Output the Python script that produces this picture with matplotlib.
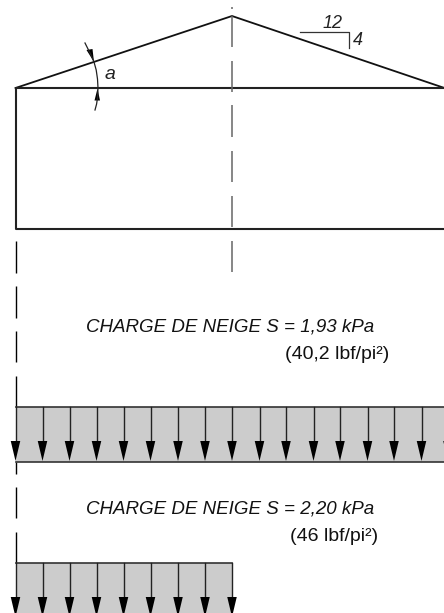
import matplotlib
matplotlib.use('Agg')
import matplotlib.pyplot as plt
from matplotlib.patches import Rectangle

# everything in pixels
roof_x = [15.5, 232, 444.5]
roof_y = [88, 16, 88]
wall_left = 15.5
wall_right = 446
wall_top = 88
wall_bottom = 229

center_x = 232
center_dashes = [(7, 8.5), (16, 47), (61, 92), (105, 137), (151, 182), (196, 227), (241, 272)]
left_dashes = [(241, 273), (286, 318), (331, 362), (376, 407), (462, 474), (487, 518), (532, 563)]

band1 = (407, 462)
band1_arrows = [15.5, 42.5, 69.5, 96.5, 123.5, 150.5, 178, 205, 232, 259.5, 286, 313.5, 340, 367.5, 394, 421.5, 448]
band2 = (563, 618)
band2_arrows = [15.5, 42.5, 69.5, 96.5, 123.5, 150.5, 178, 205, 232]
band2_right = 232

arc_x = [85, 88, 91, 94, 96.2, 97.5, 98, 97.6, 96.6, 95]
arc_y = [43, 49, 55, 62, 70, 79, 88, 97, 104, 110]

slope_x = [300, 349, 349]
slope_y = [31.5, 31.5, 48]

title1 = 'CHARGE DE NEIGE S = 1,93 kPa'
sub1 = '(40,2 lbf/pi²)'
title2 = 'CHARGE DE NEIGE S = 2,20 kPa'
sub2 = '(46 lbf/pi²)'

FONT = ['Liberation Sans', 'DejaVu Sans']


def head(ax, x, top, tip, width=9.5):
    ax.fill([x - width / 2, x + width / 2, x], [top, top, tip], color='black', lw=0, zorder=4)


def load_band(ax, y0, y1, xs, right):
    ax.add_patch(Rectangle((wall_left, y0), right - wall_left, y1 - y0, facecolor='#cccccc',
                           edgecolor='none', zorder=1))
    ax.plot([wall_left, right], [y0, y0], color='#333333', lw=1.2, zorder=2)
    ax.plot([wall_left, right], [y1, y1], color='#333333', lw=1.2, zorder=2)
    for x in xs:
        ax.plot([x, x], [y0, y1 - 20], color='#222222', lw=1.0, zorder=3)
        head(ax, x, y1 - 21, y1 - 1)


fig = plt.figure(figsize=(4.44, 6.13), dpi=100)
ax = fig.add_axes([0, 0, 1, 1])
ax.set_xlim(0, 444)
ax.set_ylim(613, 0)
ax.axis('off')

# building
ax.plot(roof_x, roof_y, color='#111111', lw=1.3)
ax.plot([wall_right, wall_left, wall_left, wall_right],
        [wall_top, wall_top, wall_bottom, wall_bottom], color='#222222', lw=1.5)

for y0, y1 in center_dashes:
    ax.plot([center_x, center_x], [y0, y1], color='#666666', lw=1.1, solid_capstyle='butt')
for y0, y1 in left_dashes:
    ax.plot([wall_left, wall_left], [y0, y1], color='black', lw=1.0, solid_capstyle='butt')

# angle
ax.plot(arc_x, arc_y, color='#222222', lw=0.9)
ax.fill([86.5, 92.5, 94], [50, 49, 62], color='black', lw=0)
ax.fill([94.5, 100, 97.5], [100.5, 100.5, 88.5], color='black', lw=0)
ax.text(104.5, 79, 'a', family=FONT, style='italic', fontsize=14, color='#222222')

# slope
ax.plot(slope_x, slope_y, color='#333333', lw=0.9)
ax.text(332.5, 28.5, '12', family=FONT, style='italic', fontsize=13, ha='center', color='#222222')
ax.text(352.5, 45, '4', family=FONT, style='italic', fontsize=13, color='#222222')

# loads
load_band(ax, band1[0], band1[1], band1_arrows, wall_right)
load_band(ax, band2[0], band2[1], band2_arrows, band2_right)

ax.text(374, 332, title1, family=FONT, style='italic', fontsize=13.5, ha='right', color='#111111')
ax.text(389, 359, sub1, family=FONT, fontsize=14, ha='right', color='#111111')
ax.text(374, 513, title2, family=FONT, style='italic', fontsize=13.5, ha='right', color='#111111')
ax.text(378, 541, sub2, family=FONT, fontsize=14, ha='right', color='#111111')

fig.savefig('out.png', dpi=100)
